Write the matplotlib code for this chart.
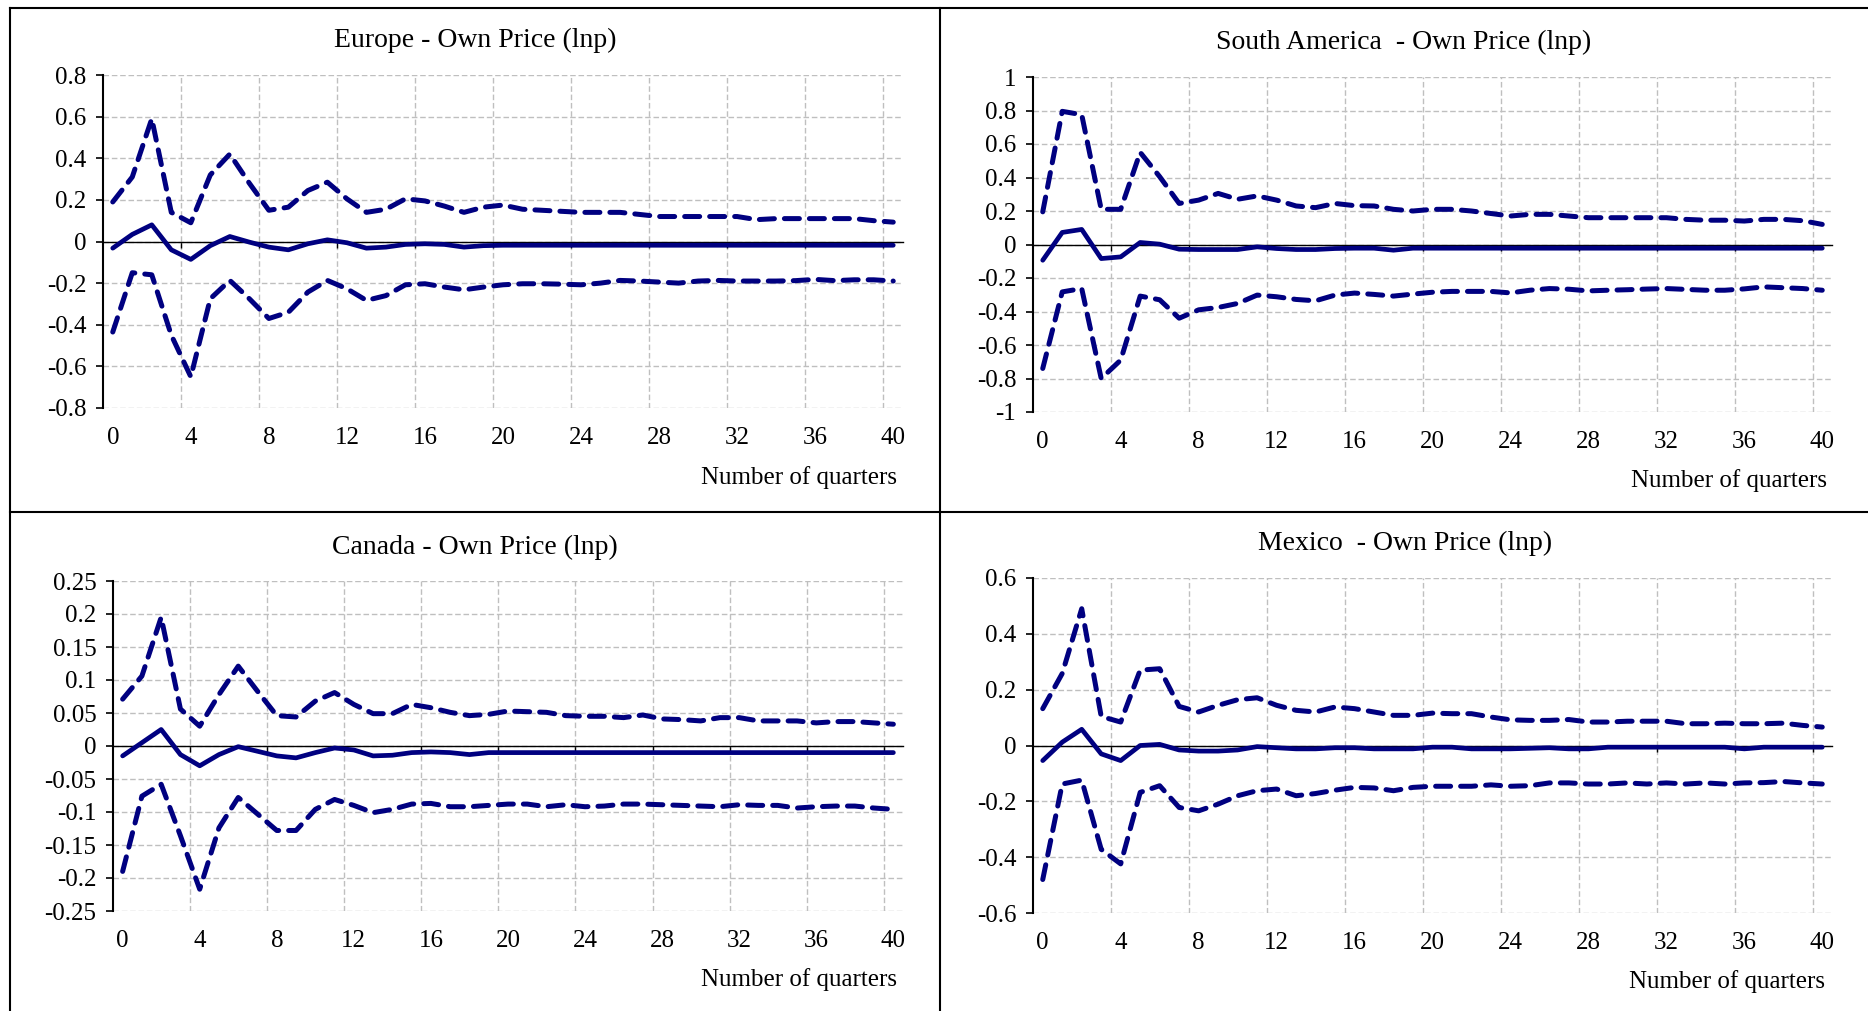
import numpy as np
import matplotlib.pyplot as plt
from matplotlib.lines import Line2D

plt.rcParams['font.family'] = ['Liberation Serif', 'DejaVu Serif']
plt.rcParams['axes.unicode_minus'] = False

NAVY = '#000080'
GRID = '#bfbfbf'
W, H = 1868, 1011

quarters = np.arange(41)

# Europe
eu_upper = [0.19, 0.31, 0.59, 0.14, 0.09, 0.32, 0.42, 0.28, 0.15, 0.165, 0.245, 0.285, 0.205, 0.14,
            0.155, 0.205, 0.195, 0.17, 0.14, 0.165, 0.175, 0.155, 0.15, 0.145, 0.14, 0.14, 0.14, 0.13,
            0.12, 0.12, 0.12, 0.12, 0.12, 0.105, 0.11, 0.11, 0.11, 0.11, 0.11, 0.10, 0.093]
eu_mean = [-0.032, 0.034, 0.08, -0.04, -0.086, -0.02, 0.024, -0.003, -0.027, -0.04, -0.011, 0.008,
           -0.006, -0.032, -0.027, -0.014, -0.011, -0.014, -0.027, -0.02, -0.018, -0.018, -0.018,
           -0.018, -0.018, -0.018, -0.018, -0.018, -0.018, -0.018, -0.018, -0.018, -0.018, -0.018,
           -0.018, -0.018, -0.018, -0.018, -0.018, -0.018, -0.018]
eu_lower = [-0.435, -0.15, -0.16, -0.45, -0.65, -0.275, -0.187, -0.275, -0.37, -0.34, -0.243, -0.187,
            -0.227, -0.283, -0.26, -0.208, -0.203, -0.219, -0.232, -0.219, -0.208, -0.203, -0.203,
            -0.205, -0.208, -0.2, -0.187, -0.19, -0.195, -0.2, -0.19, -0.187, -0.19, -0.19, -0.19,
            -0.188, -0.182, -0.188, -0.184, -0.184, -0.19]

# South America
sa_upper = [0.195, 0.795, 0.775, 0.21, 0.21, 0.55, 0.405, 0.245, 0.265, 0.305, 0.27, 0.29, 0.265,
            0.23, 0.22, 0.245, 0.232, 0.23, 0.21, 0.2, 0.21, 0.21, 0.2, 0.185, 0.17, 0.18, 0.18, 0.17,
            0.16, 0.16, 0.16, 0.16, 0.16, 0.15, 0.145, 0.145, 0.14, 0.15, 0.15, 0.142, 0.12]
sa_mean = [-0.094, 0.072, 0.09, -0.084, -0.074, 0.012, 0.002, -0.028, -0.03, -0.03, -0.03, -0.014,
           -0.024, -0.03, -0.03, -0.024, -0.022, -0.022, -0.034, -0.022, -0.022, -0.022, -0.022,
           -0.022, -0.022, -0.022, -0.022, -0.022, -0.022, -0.022, -0.022, -0.022, -0.022, -0.022,
           -0.022, -0.022, -0.022, -0.022, -0.022, -0.022, -0.022]
sa_lower = [-0.74, -0.283, -0.263, -0.8, -0.69, -0.308, -0.33, -0.44, -0.39, -0.376, -0.352, -0.302,
            -0.312, -0.328, -0.336, -0.302, -0.29, -0.298, -0.308, -0.296, -0.285, -0.28, -0.28, -0.28,
            -0.289, -0.273, -0.263, -0.267, -0.277, -0.273, -0.27, -0.266, -0.263, -0.268, -0.273,
            -0.273, -0.265, -0.253, -0.258, -0.263, -0.273]

# Canada
ca_upper = [0.071, 0.106, 0.195, 0.056, 0.03, 0.078, 0.121, 0.083, 0.046, 0.044, 0.068, 0.081, 0.063,
            0.049, 0.049, 0.063, 0.058, 0.051, 0.046, 0.048, 0.053, 0.052, 0.051, 0.046, 0.045, 0.045,
            0.043, 0.047, 0.041, 0.04, 0.038, 0.043, 0.043, 0.038, 0.038, 0.038, 0.035, 0.037, 0.037,
            0.035, 0.033]
ca_mean = [-0.015, 0.005, 0.025, -0.013, -0.03, -0.013, -0.001, -0.008, -0.015, -0.018, -0.01, -0.003,
           -0.006, -0.015, -0.014, -0.01, -0.009, -0.01, -0.013, -0.01, -0.01, -0.01, -0.01, -0.01,
           -0.01, -0.01, -0.01, -0.01, -0.01, -0.01, -0.01, -0.01, -0.01, -0.01, -0.01, -0.01, -0.01,
           -0.01, -0.01, -0.01, -0.01]
ca_lower = [-0.19, -0.076, -0.058, -0.136, -0.217, -0.124, -0.078, -0.103, -0.128, -0.128, -0.096,
            -0.081, -0.09, -0.101, -0.096, -0.088, -0.087, -0.092, -0.092, -0.09, -0.088, -0.088,
            -0.092, -0.089, -0.092, -0.091, -0.088, -0.088, -0.089, -0.09, -0.091, -0.092, -0.089,
            -0.09, -0.09, -0.094, -0.092, -0.091, -0.091, -0.094, -0.096]

# Mexico
mx_upper = [0.132, 0.258, 0.49, 0.104, 0.084, 0.27, 0.275, 0.14, 0.12, 0.144, 0.164, 0.171, 0.144,
            0.126, 0.12, 0.138, 0.132, 0.12, 0.108, 0.108, 0.116, 0.114, 0.114, 0.102, 0.092, 0.09,
            0.09, 0.093, 0.084, 0.084, 0.087, 0.087, 0.087, 0.078, 0.078, 0.08, 0.078, 0.078, 0.08,
            0.072, 0.066]
mx_mean = [-0.054, 0.012, 0.058, -0.03, -0.054, 0.0, 0.004, -0.016, -0.02, -0.02, -0.016, -0.004,
           -0.008, -0.012, -0.012, -0.008, -0.008, -0.012, -0.012, -0.012, -0.006, -0.006, -0.012,
           -0.012, -0.012, -0.01, -0.008, -0.012, -0.012, -0.006, -0.006, -0.006, -0.006, -0.006,
           -0.006, -0.006, -0.012, -0.006, -0.006, -0.006, -0.006]
mx_lower = [-0.48, -0.138, -0.124, -0.372, -0.424, -0.168, -0.144, -0.222, -0.234, -0.21, -0.18,
            -0.162, -0.156, -0.18, -0.172, -0.16, -0.15, -0.152, -0.162, -0.15, -0.146, -0.146,
            -0.146, -0.141, -0.146, -0.144, -0.134, -0.134, -0.138, -0.138, -0.134, -0.138, -0.134,
            -0.138, -0.134, -0.138, -0.134, -0.133, -0.129, -0.134, -0.138]

titles = ['Europe - Own Price (lnp)', 'South America  - Own Price (lnp)',
          'Canada - Own Price (lnp)', 'Mexico  - Own Price (lnp)']
y_ranges = [(-0.8, 0.8, 0.2), (-1.0, 1.0, 0.2), (-0.25, 0.25, 0.05), (-0.6, 0.6, 0.2)]
series = [(eu_upper, eu_mean, eu_lower), (sa_upper, sa_mean, sa_lower),
          (ca_upper, ca_mean, ca_lower), (mx_upper, mx_mean, mx_lower)]

# layout in pixels: axes box (x0, y0, x1, y1), title centre, x-label right/centre
boxes = [(103, 75, 903, 408), (1033, 77, 1832, 412), (113, 581, 903, 911), (1033, 578, 1832, 913)]
title_pos = [(475, 40), (1404, 42), (475, 547), (1405, 543)]
xlab_pos = [(897, 478), (1827, 481), (897, 980), (1825, 982)]

fig = plt.figure(figsize=(W / 100, H / 100), dpi=100)

for i in range(4):
    x0, y0, x1, y1 = boxes[i]
    ax = fig.add_axes([x0 / W, 1 - y1 / H, (x1 - x0) / W, (y1 - y0) / H])
    up, mid, low = series[i]
    dash = (0, (3, 2.0))
    ax.plot(quarters, up, color=NAVY, lw=3.6, ls=dash, dash_capstyle='round', zorder=3)
    ax.plot(quarters, low, color=NAVY, lw=3.6, ls=dash, dash_capstyle='round', zorder=3)
    ax.plot(quarters, mid, color=NAVY, lw=3.4, solid_capstyle='round', zorder=3)

    lo, hi, step = y_ranges[i]
    yt = np.round(np.arange(lo, hi + step / 2, step), 3)
    ax.set_ylim(lo, hi)
    ax.set_yticks(yt)
    ax.set_yticklabels([f'{v:g}' if abs(v) > 1e-9 else '0' for v in yt])
    ax.set_xlim(-0.5, 40.5)

    ax.set_xticks(range(0, 41, 4))
    ax.set_xticks(np.arange(3.5, 40, 4), minor=True)
    ax.tick_params(axis='x', which='major', length=0, labelbottom=False)
    ax.tick_params(axis='x', which='minor', length=4, width=1, direction='out')
    ax.tick_params(axis='y', which='major', length=5, width=1.2, direction='out',
                   labelsize=18, pad=7)

    for s in ['top', 'right']:
        ax.spines[s].set_visible(False)
    ax.spines['bottom'].set_position(('data', 0))
    ax.spines['bottom'].set_linewidth(1.0)
    ax.spines['bottom'].set_zorder(2)
    ax.spines['left'].set_linewidth(1.5)

    ax.grid(True, which='minor', axis='x', color=GRID, ls=(0, (4, 2)), lw=1.0)
    ax.grid(True, which='major', axis='y', color=GRID, ls=(0, (4, 2)), lw=1.0)
    ax.set_axisbelow(True)

    sec = ax.secondary_xaxis('bottom')
    sec.set_xticks(range(0, 41, 4))
    sec.tick_params(length=0, labelsize=18, pad=14)
    sec.spines['bottom'].set_visible(False)

    tx, ty = title_pos[i]
    fig.text(tx / W, 1 - ty / H, titles[i], ha='center', va='center', fontsize=20)
    lx, ly = xlab_pos[i]
    fig.text(lx / W, 1 - ly / H, 'Number of quarters', ha='right', va='center', fontsize=18)

# table borders around the panels
for xs, ys in [((10, W), (8, 8)), ((10, 10), (8, H)), ((940, 940), (8, H)), ((10, W), (512, 512))]:
    fig.add_artist(Line2D([x / W for x in xs], [1 - y / H for y in ys],
                          color='black', lw=1.5, transform=fig.transFigure))

fig.savefig('out.png', dpi=100)
